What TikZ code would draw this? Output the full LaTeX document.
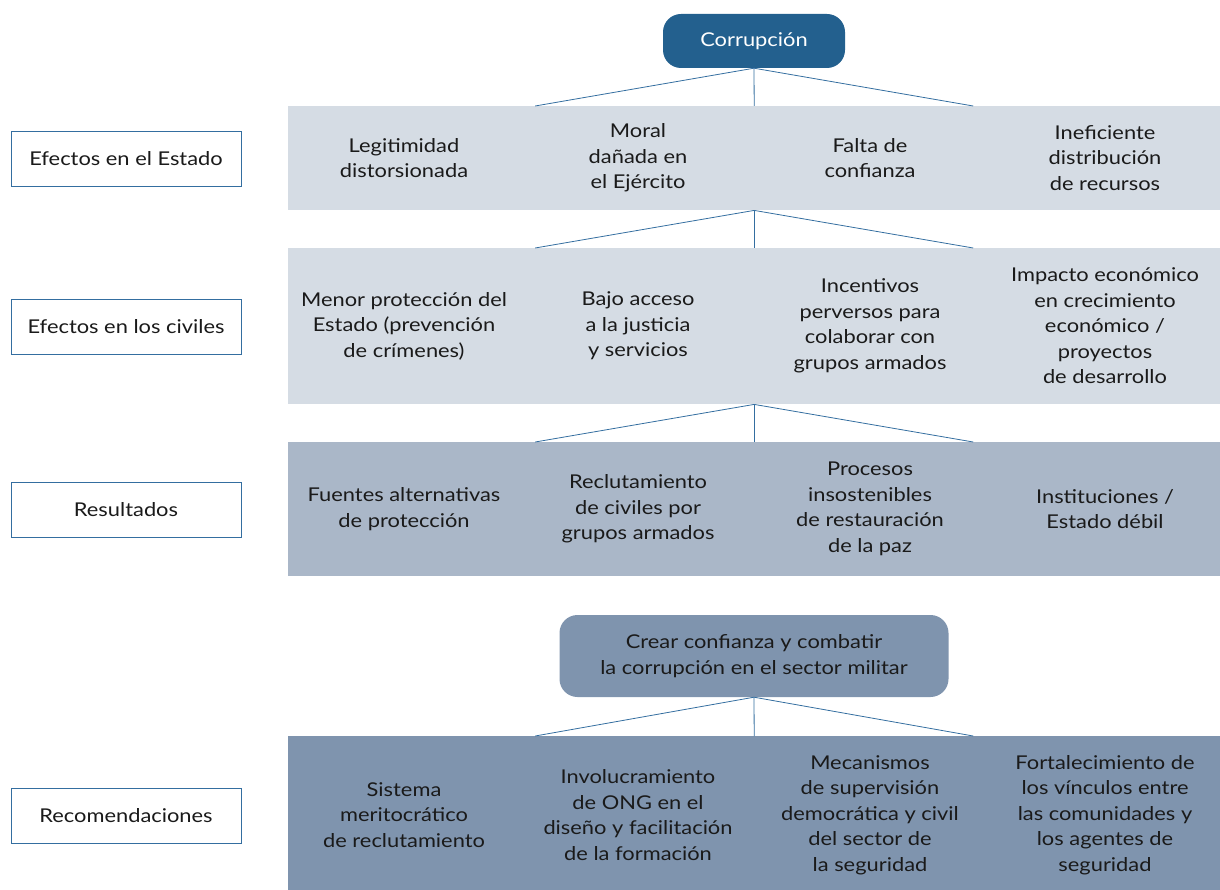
\documentclass[tikz,border=0pt]{standalone}
\usepackage{fontspec}
\setmainfont{Lato}[FakeStretch=1.15]
\usetikzlibrary{positioning,calc}
\definecolor{corrblue}{RGB}{35,96,142}
\definecolor{lineblue}{RGB}{52,110,160}
\definecolor{bandlight}{RGB}{213,220,228}
\definecolor{bandmid}{RGB}{170,183,200}
\definecolor{banddark}{RGB}{127,148,174}
\definecolor{txt}{RGB}{26,26,26}
\begin{document}
\begin{tikzpicture}[x=1pt,y=-1pt,
    every node/.style={font=\fontsize{19}{25.5}\selectfont,text=txt,align=center},
    band/.style={minimum width=932pt,inner sep=0pt,anchor=north west},
    label/.style={draw=lineblue,line width=0.8pt,fill=white,minimum width=230pt,minimum height=55pt,inner sep=0pt},
    head/.style={rounded corners=18pt,inner sep=0pt},
    link/.style={lineblue,line width=0.8pt}]
    \useasboundingbox (0,0) rectangle (1220,890);
    % Root node and the three effect bands
    \node[head,fill=corrblue,text=white,minimum width=182pt,minimum height=54pt] (corr) at (754,41) {Corrupción};
    \node[band,fill=bandlight,minimum height=104pt] (b1) at (288,106) {};
    \node[band,fill=bandlight,minimum height=156pt] (b2) at (288,248) {};
    \node[band,fill=bandmid,minimum height=134pt] (b3) at (288,442) {};
    % Recommendation node and its band
    \node[head,fill=banddark,minimum width=389pt,minimum height=82pt] (rec) at (754,656) {Crear confianza y combatir\\la corrupción en el sector militar};
    \node[band,fill=banddark,minimum height=154pt] (b4) at (288,736) {};
  
    % Row labels on the left
    \node[label] (l1) at (126,158.5) {Efectos en el Estado};
    \node[label] (l2) at (126,326.5) {Efectos en los civiles};
    \node[label] (l3) at (126,509.5) {Resultados};
    \node[label] (l4) at (126,815.5) {Recomendaciones};
  
    % Texts in the bands
    \node (s1) at (404,158) {Legitimidad\\distorsionada};
    \node (s2) at (638,158) {Moral\\dañada en\\el Ejército};
    \node (s3) at (870,158) {Falta de\\confianza};
    \node (s4) at (1105,158) {Ineficiente\\distribución\\de recursos};
    \node (c1) at (404,326) {Menor protección del\\Estado (prevención\\de crímenes)};
    \node (c2) at (638,326) {Bajo acceso\\a la justicia\\y servicios};
    \node (c3) at (870,326) {Incentivos\\perversos para\\colaborar con\\grupos armados};
    \node (c4) at (1105,326) {Impacto económico\\en crecimiento\\económico /\\proyectos\\de desarrollo};
    \node (r1) at (404,509) {Fuentes alternativas\\de protección};
    \node (r2) at (638,509) {Reclutamiento\\de civiles por\\grupos armados};
    \node (r3) at (870,509) {Procesos\\insostenibles\\de restauración\\de la paz};
    \node (r4) at (1105,509) {Instituciones /\\Estado débil};
    \node (m1) at (404,815) {Sistema\\meritocrático\\de reclutamiento};
    \node (m2) at (638,815) {Involucramiento\\de ONG en el\\diseño y facilitación\\de la formación};
    \node (m3) at (870,815) {Mecanismos\\de supervisión\\democrática y civil\\del sector de\\la seguridad};
    \node (m4) at (1105,815) {Fortalecimiento de\\los vínculos entre\\las comunidades y\\los agentes de\\seguridad};
  
    % Fan-out ends on the top of each band
    \foreach \b in {b1,b2,b3,b4} {
      \coordinate (\b l) at ($(\b.north)+(-219,0)$);
      \coordinate (\b r) at ($(\b.north)+(219,0)$);
    }
    \path[link]
      (corr.south) edge (b1l) edge (b1.north) edge (b1r)
      (b1.south) edge (b2l) edge (b2.north) edge (b2r)
      (b2.south) edge (b3l) edge (b3.north) edge (b3r)
      (rec.south) edge (b4l) edge (b4.north) edge (b4r);
  \end{tikzpicture}
\end{document}
